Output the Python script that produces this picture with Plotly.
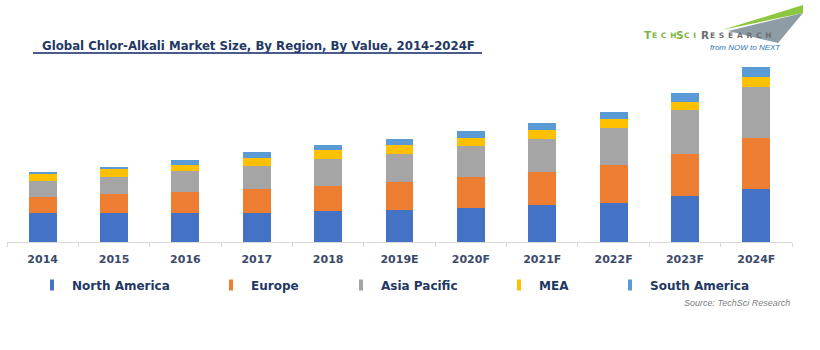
import plotly.graph_objects as go

years = ["2014", "2015", "2016", "2017", "2018", "2019E", "2020F", "2021F", "2022F", "2023F", "2024F"]
north_america = [29.4, 29.4, 29.4, 29.4, 30.7, 31.7, 34.4, 36.7, 39.0, 45.7, 52.7]
europe = [16.0, 18.3, 20.6, 23.3, 25.7, 28.7, 30.6, 33.3, 38.4, 42.7, 51.7]
asia_pacific = [15.6, 17.3, 20.7, 23.3, 27.0, 27.6, 30.7, 33.0, 36.6, 43.3, 50.3]
mea = [7.0, 7.7, 6.3, 8.4, 8.3, 8.7, 8.7, 8.7, 8.7, 8.3, 10.3]
south_america = [2.0, 2.3, 5.4, 5.3, 5.3, 6.0, 6.3, 7.7, 7.3, 8.7, 10.0]

series_names = ["North America", "Europe", "Asia Pacific", "MEA", "South America"]
series_values = [north_america, europe, asia_pacific, mea, south_america]
colors = ["#4472C4", "#ED7D31", "#A5A5A5", "#FFC000", "#5B9BD5"]

W, H = 820, 350
L, R, T, B = 7, 28, 60, 108
PW, PH = W - L - R, H - T - B


def px(x):
    return (x - L) / PW


def py(y):
    return (H - B - y) / PH


fig = go.Figure()
for name, vals, col in zip(series_names, series_values, colors):
    fig.add_trace(go.Bar(x=years, y=vals, name=name, marker=dict(color=col, line=dict(width=0)),
                         showlegend=False))

legend_text_x = [72, 251, 381, 539, 650]
legend_font = dict(family="DejaVu Sans", size=12, color="#1F3864", weight="bold")
for i, (name, col) in enumerate(zip(series_names, colors)):
    key = "legend" if i == 0 else f"legend{i+1}"
    fig.add_trace(go.Scatter(x=[None], y=[None], mode="markers", name=name, legend=key,
                             marker=dict(symbol="line-ns", size=8, color=col,
                                         line=dict(width=4, color=col))))
    fig.update_layout({key: dict(x=px(legend_text_x[i] - 40), xanchor="left",
                                 y=py(285), yanchor="middle", orientation="h",
                                 font=legend_font, bgcolor="rgba(0,0,0,0)",
                                 borderwidth=0, itemclick=False)})

fig.update_layout(
    width=W, height=H,
    margin=dict(l=L, r=R, t=T, b=B, pad=0),
    paper_bgcolor="white", plot_bgcolor="white",
    barmode="stack", bargap=0.61,
    xaxis=dict(type="category", showline=True, linecolor="#D9D9D9", linewidth=1,
               ticks="outside", tickson="boundaries", ticklen=4, tickcolor="#D9D9D9",
               ticklabelstandoff=7,
               showgrid=False, zeroline=False,
               tickfont=dict(family="DejaVu Sans", size=11, color="#3B4A6B", weight="bold")),
    yaxis=dict(range=[0, PH], visible=False, showgrid=False),
)

# Title with underline
fig.add_annotation(text="Global Chlor-Alkali Market Size, By Region, By Value, 2014-2024F",
                   xref="paper", yref="paper", x=px(258), y=py(45.5), xanchor="center", yanchor="middle",
                   showarrow=False,
                   font=dict(family="DejaVu Sans", size=11.75, color="#1F3864", weight="bold"))
fig.add_shape(type="line", xref="paper", yref="paper", x0=px(33), x1=px(482), y0=py(53), y1=py(53),
              line=dict(color="#4A5C8C", width=2))

# Source
fig.add_annotation(text="Source: TechSci Research", xref="paper", yref="paper",
                   x=px(792), y=py(303), xanchor="right", yanchor="middle", showarrow=False,
                   font=dict(family="Liberation Sans", size=9, color="#808080", style="italic"))

# Logo
fig.add_shape(type="path", xref="paper", yref="paper",
              path=f"M {px(722)},{py(30)} L {px(803)},{py(5)} L {px(803)},{py(13)} Z",
              fillcolor="#8DC63F", line=dict(width=0))
fig.add_shape(type="path", xref="paper", yref="paper",
              path=f"M {px(728)},{py(31)} L {px(803)},{py(13)} L {px(778)},{py(43)} Z",
              fillcolor="#8E9CA6", line=dict(width=0))
EN = "\u2002"
logo_runs = [
    ("T", 643, 10.5, "#7DB544"),
    (EN.join("ECH"), 651, 7.5, "#7DB544"),
    ("S", 675, 10.5, "#7DB544"),
    (EN.join("CI"), 683, 7.5, "#7DB544"),
    ("R", 700, 10.5, "#6D6E71"),
    (EN.join("ESEARCH"), 709, 7.5, "#6D6E71"),
]
for txt, x0, size, col in logo_runs:
    fig.add_annotation(text=txt, xref="paper", yref="paper", x=px(x0), y=py(39),
                       xanchor="left", yanchor="bottom", showarrow=False,
                       borderpad=0, yshift=-size * 0.25,
                       font=dict(family="DejaVu Sans", size=size, color=col, weight="bold"))
fig.add_annotation(text="from NOW to NEXT", xref="paper", yref="paper", x=px(708), y=py(47),
                   xanchor="left", yanchor="middle", showarrow=False,
                   font=dict(family="Liberation Sans", size=8, color="#2E75B6", style="italic"))

fig.write_html("out.html")
